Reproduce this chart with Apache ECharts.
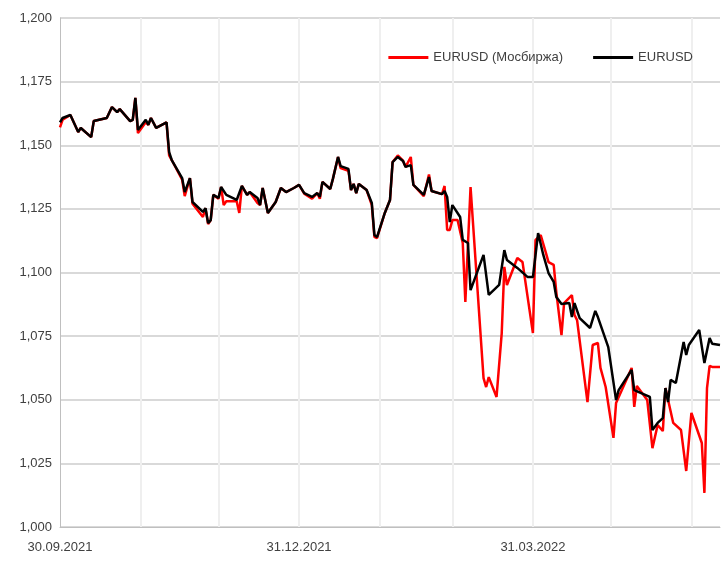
<!DOCTYPE html>
<html>
<head>
<meta charset="utf-8">
<script src="https://cdn.jsdelivr.net/npm/echarts@6/dist/echarts.min.js"></script>
<style>
  html, body { margin: 0; padding: 0; background: #fff; }
  #chart { width: 728px; height: 573px; }
</style>
</head>
<body>
<div id="chart"></div>
<script>
// day offsets from 30.09.2021
const dayCount = 255
const monthEnds = [31, 61, 92, 123, 151, 182, 212, 243]
const labelDays = { 0: '30.09.2021', 92: '31.12.2021', 182: '31.03.2022' }
const yTicks = [1.000, 1.025, 1.050, 1.075, 1.100, 1.125, 1.150, 1.175, 1.200]

const blackDays = [0,1,4,7,8,12,13,18,20,22,23,27,28,29,30,33,34,35,37,41,42,43,47,48,50,51,55,56,57,58,59,61,62,64,68,70,72,73,76,77,78,80,83,85,87,90,92,94,97,99,100,101,104,105,107,108,111,112,113,114,115,118,120,121,122,125,127,128,130,132,133,135,136,140,142,143,147,148,149,150,151,154,155,157,158,163,165,169,171,172,176,180,182,184,186,188,190,191,193,196,197,198,200,204,206,207,211,214,215,220,221,227,228,230,232,233,234,235,237,240,241,242,246,248,250,251,254]
const blackVals = [1.159,1.1607,1.1619,1.1552,1.1568,1.1532,1.1595,1.1607,1.165,1.163,1.1642,1.1595,1.160,1.1686,1.156,1.160,1.158,1.1607,1.1568,1.159,1.1473,1.1442,1.1371,1.1316,1.1371,1.1277,1.1238,1.1253,1.1194,1.1206,1.1305,1.1293,1.1336,1.1305,1.1285,1.134,1.1305,1.1316,1.1293,1.1265,1.1332,1.1234,1.1277,1.1332,1.1316,1.1332,1.1344,1.1312,1.1297,1.1312,1.1297,1.1356,1.1328,1.1367,1.1454,1.1418,1.1407,1.1324,1.1348,1.1312,1.1348,1.1324,1.1273,1.1147,1.1139,1.1234,1.1285,1.1434,1.1454,1.1438,1.1415,1.1422,1.1344,1.1305,1.1375,1.132,1.1308,1.132,1.1297,1.1198,1.1265,1.1218,1.1128,1.1116,1.0931,1.1069,1.0912,1.0951,1.1088,1.1049,1.1018,1.0982,1.0982,1.1155,1.1069,1.0998,1.0963,1.0904,1.0876,1.088,1.0825,1.088,1.0821,1.0782,1.0849,1.0825,1.0707,1.0499,1.0538,1.0617,1.0538,1.0511,1.0381,1.0409,1.0428,1.0546,1.0491,1.0578,1.0566,1.0727,1.0676,1.0715,1.0774,1.0644,1.0743,1.072,1.0715]

const redDays = [0,1,4,7,8,12,13,18,20,22,23,27,28,29,30,33,34,35,37,41,42,43,47,48,50,51,55,56,57,58,59,61,62,63,64,68,69,70,72,73,76,77,78,80,83,85,87,90,92,94,97,99,100,101,104,105,107,108,111,112,113,114,115,118,120,121,122,125,127,128,130,132,133,135,136,140,142,143,147,148,149,150,151,153,155,156,158,163,164,165,168,170,171,172,176,178,182,183,185,187,188,190,191,193,194,197,198,199,203,205,207,208,210,213,214,220,221,222,226,228,230,232,233,236,239,241,243,247,248,249,250,251,254]
const redVals = [1.157,1.160,1.1619,1.1552,1.1568,1.1532,1.1595,1.1607,1.165,1.163,1.1642,1.1595,1.160,1.1686,1.1548,1.159,1.158,1.1607,1.1568,1.159,1.146,1.1442,1.1365,1.130,1.1371,1.127,1.1218,1.1253,1.119,1.1206,1.1305,1.129,1.1336,1.1265,1.128,1.128,1.1234,1.134,1.1305,1.1316,1.1273,1.1265,1.1332,1.1234,1.1277,1.1332,1.1316,1.1332,1.1344,1.131,1.129,1.1312,1.129,1.1356,1.1328,1.1367,1.1454,1.141,1.140,1.1324,1.1348,1.1312,1.1348,1.1324,1.1265,1.114,1.1135,1.1234,1.1285,1.1434,1.146,1.144,1.1415,1.1454,1.1344,1.130,1.1385,1.132,1.1308,1.134,1.1167,1.1167,1.1206,1.1206,1.1116,1.0884,1.1336,1.0585,1.055,1.0589,1.0511,1.0762,1.1022,1.0951,1.1057,1.1041,1.0762,1.1128,1.1147,1.1077,1.1041,1.103,1.0923,1.0754,1.088,1.0911,1.0833,1.0813,1.0491,1.0715,1.0723,1.0625,1.055,1.035,1.0487,1.0625,1.0472,1.0554,1.0499,1.031,1.0401,1.0377,1.0546,1.0409,1.0381,1.022,1.0448,1.033,1.0134,1.0546,1.0633,1.0629,1.0629]

const categories = []
for (let i = 0; i < dayCount; i++) categories.push(i)

const pairs = (days, vals) => days.map((d, i) => [d, vals[i]])

const chart = echarts.init(document.getElementById('chart'))
chart.setOption({
    animation: false,
    textStyle: { fontFamily: 'Liberation Sans, Arial, sans-serif' },
    grid: { left: 60, right: 8, top: 18, bottom: 46, containLabel: false },
    legend: {
        top: 46, right: 30, itemGap: 30, itemWidth: 40, itemHeight: 3,
        icon: 'rect',
        textStyle: { fontSize: 13, color: '#404040' },
        data: ['EURUSD (Мосбиржа)', 'EURUSD']
    },
    xAxis: {
        type: 'category',
        data: categories,
        boundaryGap: false,
        axisLine: { lineStyle: { color: '#bfbfbf', width: 1 } },
        axisTick: { show: false },
        axisLabel: {
            interval: (i) => labelDays[i] !== undefined,
            formatter: (v) => labelDays[v] || '',
            color: '#404040', fontSize: 13, margin: 14
        },
        splitLine: {
            show: true,
            interval: (i) => monthEnds.indexOf(i) >= 0,
            lineStyle: { color: '#efefef', width: 2 }
        }
    },
    yAxis: {
        type: 'value',
        min: 1.0, max: 1.2, interval: 0.025,
        axisLine: { show: true, lineStyle: { color: '#bfbfbf' } },
        axisTick: { show: false },
        axisLabel: {
            color: '#404040', fontSize: 13, margin: 8,
            formatter: (v) => yTicks.indexOf(+v.toFixed(3)) >= 0 ? v.toFixed(3).replace('.', ',') : ''
        },
        splitLine: { lineStyle: { color: '#d9d9d9', width: 2 } }
    },
    series: [
        {
            name: 'EURUSD (Мосбиржа)', type: 'line', showSymbol: false,
            data: pairs(redDays, redVals),
            itemStyle: { color: '#ff0000' },
            lineStyle: { color: '#ff0000', width: 2.5 }
        },
        {
            name: 'EURUSD', type: 'line', showSymbol: false,
            data: pairs(blackDays, blackVals),
            itemStyle: { color: '#000000' },
            lineStyle: { color: '#000000', width: 2.5 }
        }
    ]
})
</script>
</body>
</html>
